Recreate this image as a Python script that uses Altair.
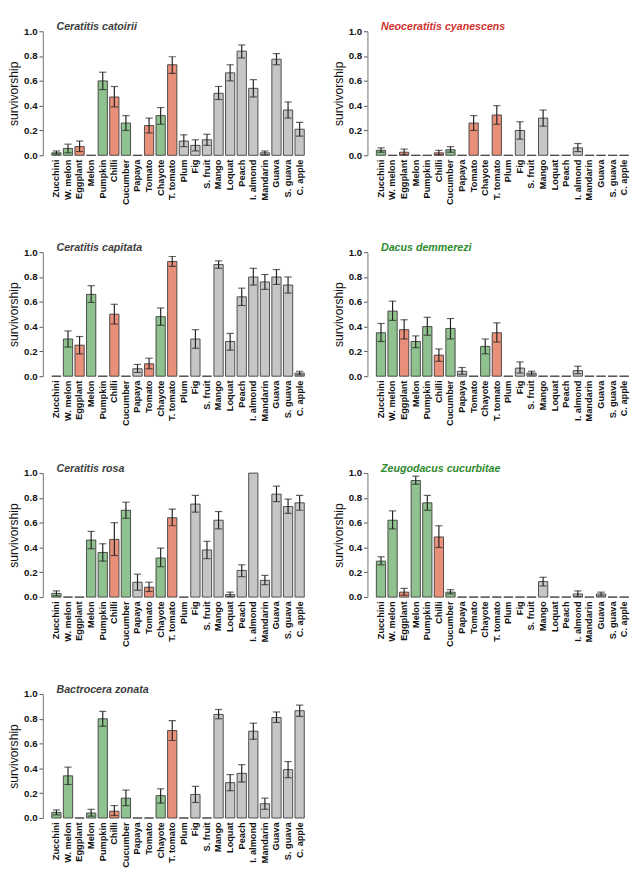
import altair as alt
import pandas as pd

categories = ["Zucchini", "W. melon", "Eggplant", "Melon", "Pumpkin", "Chilli", "Cucumber",
              "Papaya", "Tomato", "Chayote", "T. tomato", "Plum", "Fig", "S. fruit", "Mango",
              "Loquat", "Peach", "I. almond", "Mandarin", "Guava", "S. guava", "C. apple"]
groups = ["cucurbit", "cucurbit", "solanaceous", "cucurbit", "cucurbit", "solanaceous", "cucurbit",
          "other", "solanaceous", "cucurbit", "solanaceous", "other", "other", "other", "other",
          "other", "other", "other", "other", "other", "other", "other"]
y_ticks = [0.0, 0.2, 0.4, 0.6, 0.8, 1.0]

catoirii_mean = [0.02, 0.055, 0.07, 0, 0.60, 0.47, 0.26, 0, 0.24, 0.32, 0.73, 0.115, 0.08, 0.125, 0.50, 0.665, 0.84, 0.54, 0.02, 0.775, 0.365, 0.21]
catoirii_lo = [0.01, 0.02, 0.03, 0, 0.53, 0.39, 0.20, 0, 0.18, 0.25, 0.66, 0.07, 0.035, 0.08, 0.45, 0.60, 0.785, 0.47, 0.005, 0.73, 0.30, 0.155]
catoirii_hi = [0.035, 0.09, 0.115, 0, 0.67, 0.555, 0.32, 0, 0.30, 0.385, 0.795, 0.165, 0.125, 0.17, 0.555, 0.73, 0.89, 0.61, 0.035, 0.82, 0.43, 0.265]

cyanescens_mean = [0.04, 0, 0.025, 0, 0, 0.02, 0.045, 0, 0.26, 0, 0.325, 0, 0.20, 0, 0.30, 0, 0, 0.06, 0, 0, 0, 0]
cyanescens_lo = [0.025, 0, 0.005, 0, 0, 0.005, 0.025, 0, 0.20, 0, 0.25, 0, 0.13, 0, 0.235, 0, 0, 0.03, 0, 0, 0, 0]
cyanescens_hi = [0.06, 0, 0.05, 0, 0, 0.04, 0.07, 0, 0.32, 0, 0.40, 0, 0.27, 0, 0.365, 0, 0, 0.095, 0, 0, 0, 0]

capitata_mean = [0, 0.30, 0.25, 0.66, 0, 0.50, 0, 0.06, 0.10, 0.48, 0.925, 0, 0.30, 0, 0.90, 0.28, 0.64, 0.80, 0.76, 0.80, 0.735, 0.025]
capitata_lo = [0, 0.235, 0.18, 0.595, 0, 0.42, 0, 0.03, 0.06, 0.41, 0.885, 0, 0.225, 0, 0.87, 0.21, 0.57, 0.735, 0.70, 0.74, 0.67, 0.01]
capitata_hi = [0, 0.365, 0.32, 0.73, 0, 0.58, 0, 0.095, 0.145, 0.55, 0.965, 0, 0.375, 0, 0.93, 0.345, 0.71, 0.87, 0.82, 0.86, 0.80, 0.04]

demmerezi_mean = [0.35, 0.525, 0.375, 0.28, 0.40, 0.17, 0.385, 0.04, 0, 0.24, 0.35, 0, 0.065, 0.025, 0, 0, 0, 0.045, 0, 0, 0, 0]
demmerezi_lo = [0.28, 0.45, 0.30, 0.23, 0.33, 0.12, 0.30, 0.015, 0, 0.18, 0.275, 0, 0.025, 0.01, 0, 0, 0, 0.02, 0, 0, 0, 0]
demmerezi_hi = [0.425, 0.605, 0.455, 0.325, 0.475, 0.22, 0.465, 0.07, 0, 0.30, 0.43, 0, 0.115, 0.04, 0, 0, 0, 0.08, 0, 0, 0, 0]

rosa_mean = [0.03, 0, 0, 0.46, 0.36, 0.465, 0.70, 0.12, 0.08, 0.315, 0.64, 0, 0.75, 0.38, 0.62, 0.02, 0.215, 1.0, 0.135, 0.83, 0.73, 0.76]
rosa_lo = [0.01, 0, 0, 0.39, 0.29, 0.335, 0.635, 0.055, 0.045, 0.245, 0.575, 0, 0.685, 0.31, 0.55, 0.005, 0.165, 1.0, 0.10, 0.77, 0.675, 0.70]
rosa_hi = [0.05, 0, 0, 0.53, 0.43, 0.60, 0.765, 0.185, 0.12, 0.395, 0.71, 0, 0.82, 0.45, 0.69, 0.04, 0.26, 1.0, 0.175, 0.895, 0.79, 0.82]

cucurbitae_mean = [0.29, 0.62, 0.04, 0.94, 0.76, 0.485, 0.04, 0, 0, 0, 0, 0, 0, 0, 0.125, 0, 0, 0.025, 0, 0.025, 0, 0]
cucurbitae_lo = [0.26, 0.55, 0.015, 0.91, 0.70, 0.40, 0.025, 0, 0, 0, 0, 0, 0, 0, 0.09, 0, 0, 0.005, 0, 0.01, 0, 0]
cucurbitae_hi = [0.325, 0.695, 0.07, 0.975, 0.82, 0.575, 0.06, 0, 0, 0, 0, 0, 0, 0, 0.16, 0, 0, 0.05, 0, 0.04, 0, 0]

zonata_mean = [0.045, 0.34, 0, 0.04, 0.80, 0.055, 0.16, 0, 0, 0.18, 0.705, 0, 0.19, 0, 0.835, 0.285, 0.36, 0.70, 0.115, 0.81, 0.39, 0.865]
zonata_lo = [0.025, 0.27, 0, 0.015, 0.74, 0.02, 0.10, 0, 0, 0.12, 0.625, 0, 0.125, 0, 0.80, 0.22, 0.29, 0.635, 0.07, 0.77, 0.325, 0.82]
zonata_hi = [0.065, 0.41, 0, 0.07, 0.86, 0.10, 0.225, 0, 0, 0.235, 0.785, 0, 0.255, 0, 0.875, 0.35, 0.43, 0.765, 0.16, 0.855, 0.455, 0.91]

panels = [
    ("Ceratitis catoirii", "#3d3d3d", catoirii_mean, catoirii_lo, catoirii_hi),
    ("Neoceratitis cyanescens", "#d0302c", cyanescens_mean, cyanescens_lo, cyanescens_hi),
    ("Ceratitis capitata", "#3d3d3d", capitata_mean, capitata_lo, capitata_hi),
    ("Dacus demmerezi", "#2e8a2e", demmerezi_mean, demmerezi_lo, demmerezi_hi),
    ("Ceratitis rosa", "#3d3d3d", rosa_mean, rosa_lo, rosa_hi),
    ("Zeugodacus cucurbitae", "#2e8a2e", cucurbitae_mean, cucurbitae_lo, cucurbitae_hi),
    ("Bactrocera zonata", "#3d3d3d", zonata_mean, zonata_lo, zonata_hi),
]

FONT = "Liberation Sans"
W, H = 263, 128

def y_axis():
    return alt.Axis(title="survivorship", values=y_ticks, format=".1f",
                    labelOverlap=False, offset=8, tickSize=4, tickColor="#555",
                    domainColor="#888", domainWidth=1.2,
                    labelFont=FONT, labelFontSize=10, labelFontWeight="bold", labelColor="#111",
                    labelPadding=2, titleFont=FONT, titleFontSize=12.5, titleFontWeight="normal",
                    titleColor="#111", titlePadding=3)

def y_scale():
    return alt.Scale(domain=[0, 1], nice=False)

def panel(title, tcolor, mean, lo, hi):
    df = pd.DataFrame({"host": categories, "group": groups, "mean": mean, "lo": lo, "hi": hi})
    x = alt.X("host:N", sort=categories, scale=alt.Scale(paddingInner=0.2, paddingOuter=0.1),
              axis=alt.Axis(title=None, labelAngle=-90, domain=False, ticks=False, labelPadding=4,
                            labelFont=FONT, labelFontSize=9.5, labelFontWeight="bold", labelColor="#111"))
    bars = alt.Chart(df).mark_bar(stroke="#3a3a3a", strokeWidth=0.9).encode(
        x=x, y=alt.Y("mean:Q", scale=y_scale(), axis=y_axis()),
        color=alt.Color("group:N", scale=alt.Scale(domain=["cucurbit", "solanaceous", "other"],
                                                   range=["#8fc28f", "#e9907a", "#c6c6c6"]), legend=None))
    eb = alt.Chart(df).transform_filter("datum.hi > datum.lo")
    rule = eb.mark_rule(color="#222", strokeWidth=1.2).encode(
        x=x, y=alt.Y("lo:Q", scale=y_scale(), axis=y_axis()), y2="hi:Q")
    cap_lo = eb.mark_tick(color="#222", thickness=1.2, size=7.5).encode(
        x=x, y=alt.Y("lo:Q", scale=y_scale(), axis=y_axis()))
    cap_hi = eb.mark_tick(color="#222", thickness=1.2, size=7.5).encode(
        x=x, y=alt.Y("hi:Q", scale=y_scale(), axis=y_axis()))
    return alt.layer(bars, rule, cap_lo, cap_hi).properties(
        width=W, height=H,
        title=alt.TitleParams(title, anchor="start", frame="group", dx=6, offset=-6, font=FONT,
                              fontSize=11, fontStyle="italic", fontWeight="bold", color=tcolor))

charts = [panel(*p) for p in panels]

chart = alt.vconcat(
    alt.hconcat(charts[0], charts[1], spacing=28),
    alt.hconcat(charts[2], charts[3], spacing=28),
    alt.hconcat(charts[4], charts[5], spacing=28),
    charts[6],
    spacing=39,
).properties(padding=0).configure_view(stroke=None).configure_axis(grid=False).configure_axisY(
    labelOverlap=False)

chart.save("out.html", embed_options={"renderer": "svg", "actions": False})
